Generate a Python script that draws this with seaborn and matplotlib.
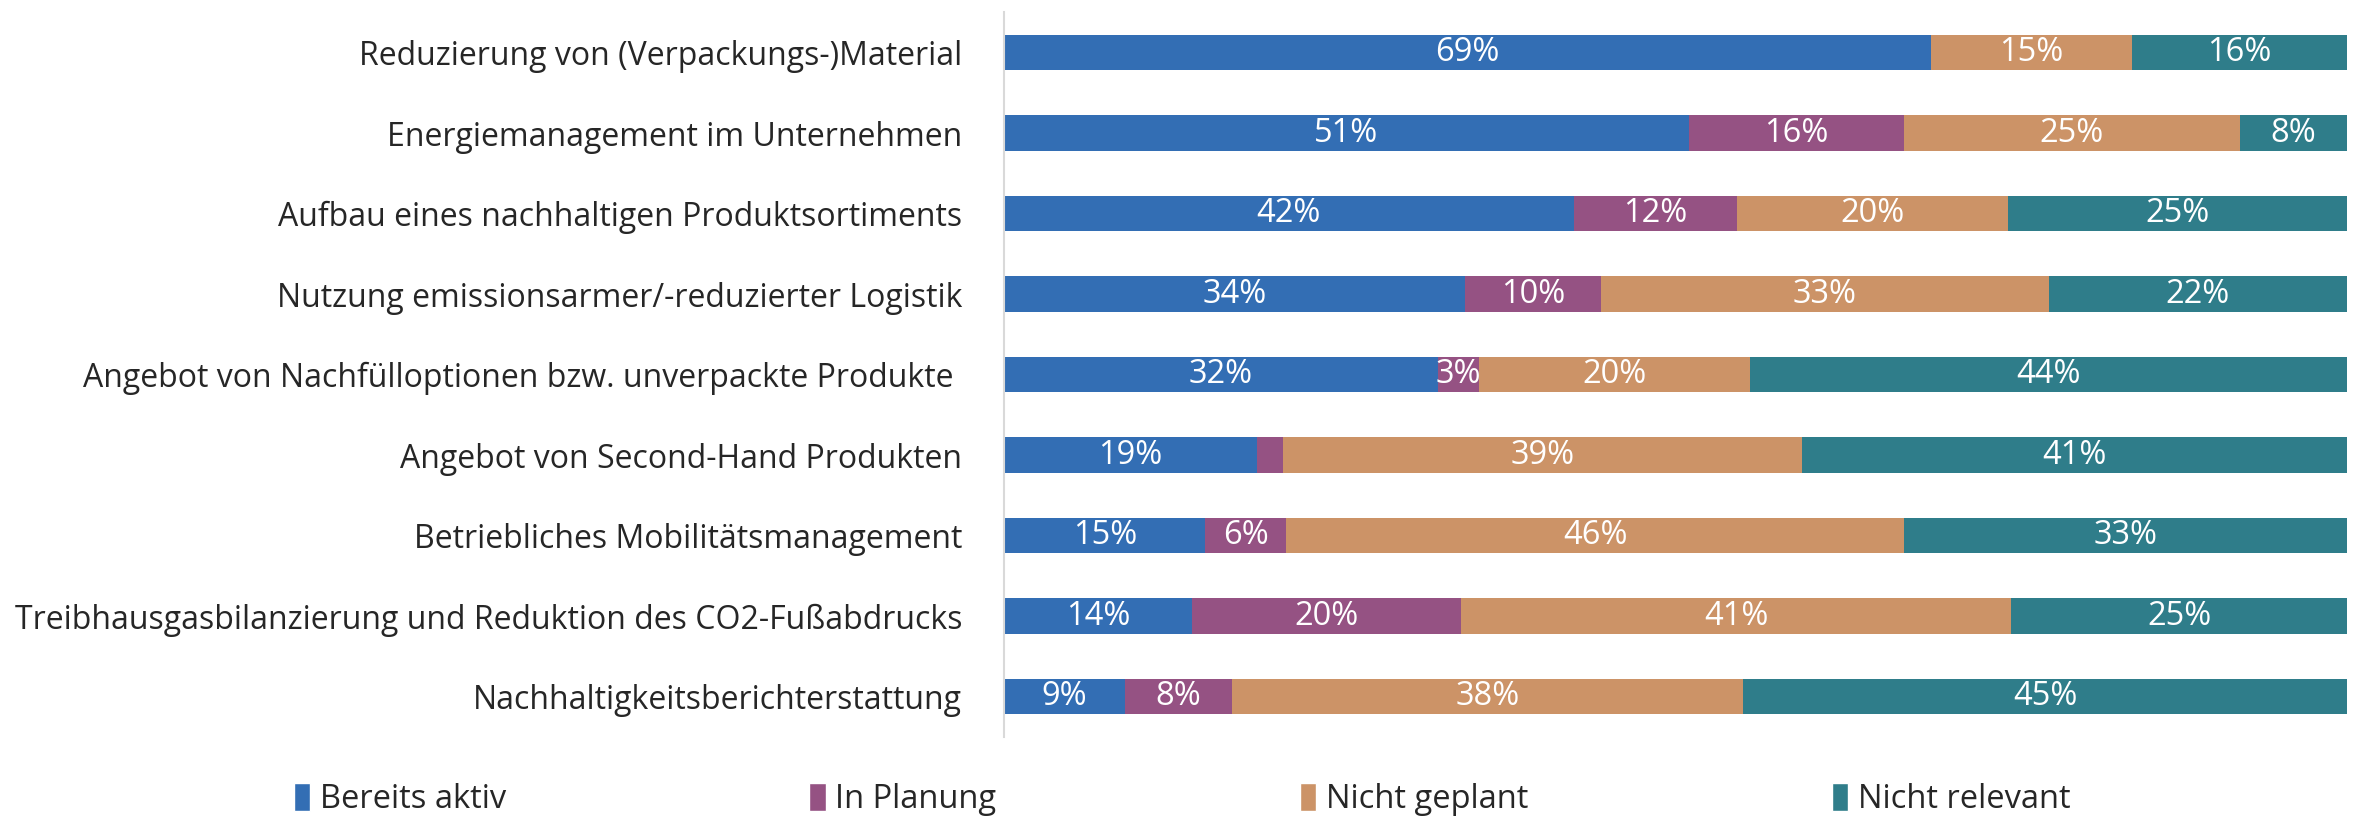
import numpy as np
import pandas as pd
import matplotlib
matplotlib.use("Agg")
import matplotlib.pyplot as plt
import seaborn as sns
from matplotlib.patches import Patch

# data (percent)
categories = [
    "Reduzierung von (Verpackungs-)Material",
    "Energiemanagement im Unternehmen",
    "Aufbau eines nachhaltigen Produktsortiments",
    "Nutzung emissionsarmer/-reduzierter Logistik",
    "Angebot von Nachfülloptionen bzw. unverpackte Produkte ",
    "Angebot von Second-Hand Produkten",
    "Betriebliches Mobilitätsmanagement",
    "Treibhausgasbilanzierung und Reduktion des CO2-Fußabdrucks",
    "Nachhaltigkeitsberichterstattung",
]
series = ["Bereits aktiv", "In Planung", "Nicht geplant", "Nicht relevant"]
bereits_aktiv = [69, 51, 42, 34, 32, 19, 15, 14, 9]
in_planung = [0, 16, 12, 10, 3, 2, 6, 20, 8]
nicht_geplant = [15, 25, 20, 33, 20, 39, 46, 41, 38]
nicht_relevant = [16, 8, 25, 22, 44, 41, 33, 25, 45]
colors = ["#336EB4", "#955283", "#CC9367", "#2F7D8A"]

sns.set_style("white")
plt.rcParams['font.family'] = ['Open Sans', 'DejaVu Sans']

df = pd.DataFrame({"cat": categories, "Bereits aktiv": bereits_aktiv,
                   "In Planung": in_planung, "Nicht geplant": nicht_geplant,
                   "Nicht relevant": nicht_relevant})
# 100% stacked: share of each row
totals = df[series].sum(axis=1)
shares = df[series].div(totals, axis=0) * 100
cum = shares.cumsum(axis=1)

fig = plt.figure(figsize=(23.59, 8.17), dpi=100)
ax = fig.add_axes([0.4256, 0.098, 0.5694, 0.887])

# draw cumulative bars from the last series back to the first
for i in range(len(series) - 1, -1, -1):
    sns.barplot(x=cum[series[i]], y=df["cat"], orient="h", color=colors[i],
                width=0.44, saturation=1, ax=ax, linewidth=0)

fs = 23.5
for i, s in enumerate(series):
    for j in range(len(categories)):
        raw = df[s][j]
        if raw < 3:
            continue
        center = cum[s][j] - shares[s][j] / 2
        ax.text(center, j, f"{raw}%", ha="center", va="center",
                color="white", fontsize=fs)

ax.set_xlim(0, 100)
ax.set_ylim(8.5, -0.5)
ax.set_xlabel("")
ax.set_ylabel("")
ax.set_xticks([])
ax.tick_params(axis="y", length=0, labelsize=23, pad=30)
for sp in ["top", "right", "bottom"]:
    ax.spines[sp].set_visible(False)
ax.spines["left"].set_color("#D9D9D9")
ax.spines["left"].set_linewidth(1.5)

handles = [Patch(facecolor=c, label=s) for c, s in zip(colors, series)]
fig.legend(handles=handles, loc="lower left", bbox_to_anchor=(0.112, -0.035),
           ncol=4, frameon=False, fontsize=fs, handlelength=0.5,
           handleheight=0.9, handletextpad=0.3, columnspacing=9.3)

fig.savefig("out.png", dpi=100)
